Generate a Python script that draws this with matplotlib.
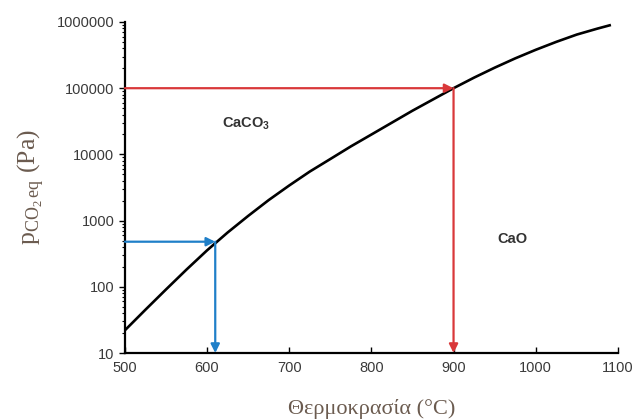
import matplotlib
matplotlib.use("Agg")
import matplotlib.pyplot as plt
from matplotlib.ticker import FixedLocator, NullFormatter, LogLocator

# equilibrium curve
temps = [500, 525, 550, 575, 600, 625, 650, 675, 700, 725, 750, 775, 800,
         825, 850, 875, 900, 925, 950, 975, 1000, 1025, 1050, 1075, 1090]
p_eq = [22, 45, 91, 182, 355, 660, 1175, 2040, 3390, 5500, 8510, 13200, 19950,
        30200, 45700, 67600, 100000, 144500, 204000, 282000, 380000, 501000,
        646000, 794000, 891000]

blue_T, blue_p = 610, 480
red_T, red_p = 900, 100000

xticks = [500, 600, 700, 800, 900, 1000, 1100]
yticks = [10, 100, 1000, 10000, 100000, 1000000]
ylabels = ["10", "100", "1000", "10000", "100000", "1000000"]

fig = plt.figure(figsize=(6.37, 4.19), dpi=100)
ax = fig.add_axes([0.196, 0.1575, 0.774, 0.79])

ax.plot(temps, p_eq, color="black", lw=1.9, zorder=3, solid_joinstyle="round")

red = "#d9383a"
blue = "#1f7fc8"
arr = dict(arrowstyle="-|>", mutation_scale=13, lw=1.6, shrinkA=0, shrinkB=0)
ax.annotate("", xy=(red_T, red_p), xytext=(500, red_p), arrowprops=dict(arr, color=red))
ax.annotate("", xy=(red_T, 10), xytext=(red_T, red_p), arrowprops=dict(arr, color=red))
ax.annotate("", xy=(blue_T, blue_p), xytext=(500, blue_p), arrowprops=dict(arr, color=blue))
ax.annotate("", xy=(blue_T, 10), xytext=(blue_T, blue_p), arrowprops=dict(arr, color=blue))

plt.rcParams["mathtext.fontset"] = "custom"
plt.rcParams["mathtext.bf"] = "Liberation Sans:bold"
ax.text(618, 29000, r"CaCO$_\mathbf{3}$", fontsize=10.5, fontweight="bold", color="#333333",
        family="Liberation Sans", va="center")
ax.text(953, 520, "CaO", fontsize=10.5, fontweight="bold", color="#333333",
        family="Liberation Sans", va="center")

ax.set_yscale("log")
ax.set_xlim(500, 1100)
ax.set_ylim(10, 1000000)
ax.xaxis.set_major_locator(FixedLocator(xticks))
ax.set_xticklabels([str(t) for t in xticks])
ax.yaxis.set_major_locator(FixedLocator(yticks))
ax.set_yticklabels(ylabels)
ax.yaxis.set_minor_locator(LogLocator(base=10, subs=range(2, 10)))
ax.yaxis.set_minor_formatter(NullFormatter())

for s in ["top", "right"]:
    ax.spines[s].set_visible(False)
for s in ["left", "bottom"]:
    ax.spines[s].set_linewidth(1.6)

ax.tick_params(axis="both", which="major", labelsize=10.5, labelcolor="#3a3a3a", length=4, width=1)
ax.tick_params(axis="x", direction="in", pad=6)
ax.tick_params(axis="y", which="minor", length=2.5, width=0.8)
for lbl in ax.get_xticklabels() + ax.get_yticklabels():
    lbl.set_family("Liberation Sans")

ax.set_xlabel("Θερμοκρασία (°C)", family="Liberation Serif", fontsize=16, color="#6b5b4f", labelpad=17)
ax.set_ylabel(r"p$_{\mathregular{CO_2\,eq}}$ (Pa)", family="Liberation Serif", fontsize=18.5,
              color="#6b5b4f", labelpad=8)

fig.savefig("out.png", dpi=100)
